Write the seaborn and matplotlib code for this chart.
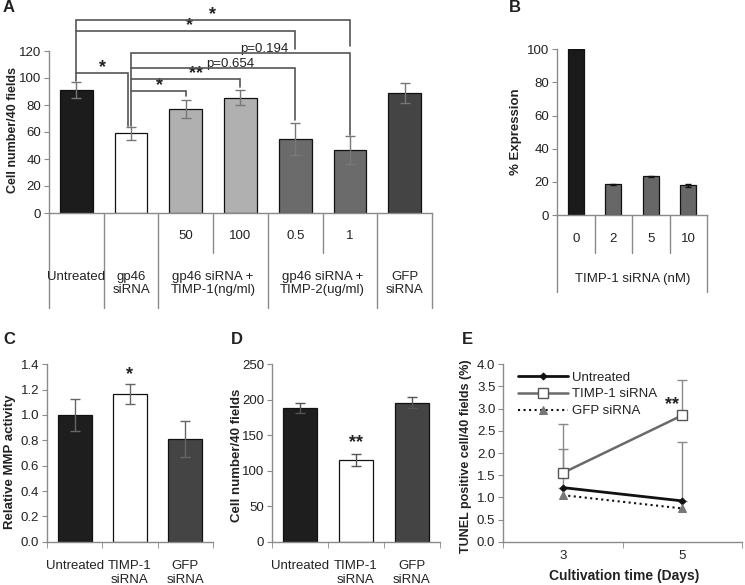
import matplotlib
matplotlib.use("Agg")
import matplotlib.pyplot as plt
import seaborn as sns
import numpy as np
import pandas as pd

# ---------------- data ----------------
a_cats = ["Untreated", "gp46 siRNA", "TIMP-1 50", "TIMP-1 100", "TIMP-2 0.5", "TIMP-2 1", "GFP siRNA"]
a_vals = [91, 59, 77, 85.5, 55, 46.5, 89]
a_errs = [6, 5, 6.5, 5.5, 12, 10.5, 7.5]
a_colors = ["#1c1c1c", "#ffffff", "#b0b0b0", "#b0b0b0", "#6b6b6b", "#6b6b6b", "#444444"]
a_dose_labels = ["50", "100", "0.5", "1"]
a_group_labels = ["Untreated", "gp46\nsiRNA", "gp46 siRNA +\nTIMP-1(ng/ml)",
                  "gp46 siRNA +\nTIMP-2(ug/ml)", "GFP\nsiRNA"]

b_cats = ["0", "2", "5", "10"]
b_vals = [100, 18.5, 23.5, 18]
b_errs = [0, 0.3, 0.3, 1.0]
b_colors = ["#1a1a1a", "#676767", "#676767", "#676767"]

cd_cats = ["Untreated", "TIMP-1\nsiRNA", "GFP\nsiRNA"]
cd_colors = ["#1e1e1e", "#ffffff", "#444444"]
c_vals = [1.0, 1.165, 0.81]
c_errs = [0.13, 0.08, 0.14]
d_vals = [188, 115, 196]
d_errs = [7, 8, 7.5]

e_days = [3, 5]
e_untreated = [1.22, 0.92]
e_timp = [1.55, 2.85]
e_gfp = [1.05, 0.75]
e_untreated_err = [0.88, 1.33]
e_timp_err = [1.1, 0.8]

# ---------------- style ----------------
sns.set_style("ticks")
plt.rcParams["font.family"] = ["Liberation Sans", "DejaVu Sans"]
plt.rcParams["text.color"] = "#222222"

W, H = 745, 585
fig = plt.figure(figsize=(W / 100, H / 100), dpi=100)
AX = "#8a8a8a"
TXT = "#222222"
FS = 9.5


def axes_px(l, r, t, b):
    return fig.add_axes([l / W, 1 - b / H, (r - l) / W, (b - t) / H])


def ftext(x, y, s, **kw):
    fig.text(x / W, 1 - y / H, s, **kw)


def style(ax):
    sns.despine(ax=ax)
    for s in ["left", "bottom"]:
        ax.spines[s].set_color(AX)
        ax.spines[s].set_linewidth(1.0)
    ax.tick_params(axis="y", direction="out", length=3.5, color=AX,
                   labelsize=FS, labelcolor=TXT, pad=2)
    ax.set_xlabel("")
    ax.set_ylabel("")


def bars(ax, cats, vals, errs, colors, width, ecolor, capsize):
    df = pd.DataFrame({"cat": cats, "val": vals})
    sns.barplot(data=df, x="cat", y="val", hue="cat", order=cats, hue_order=cats,
                palette=dict(zip(cats, colors)), legend=False, saturation=1,
                edgecolor="#111111", linewidth=0.9, width=width, errorbar=None, ax=ax)
    ax.errorbar(np.arange(len(cats)), vals, yerr=errs, fmt="none", ecolor=ecolor,
                elinewidth=1.0, capsize=capsize, capthick=1.0, zorder=5)
    ax.set_xlim(-0.5, len(cats) - 0.5)


# ---------------- Panel A ----------------
axA = axes_px(49, 432, 51, 213)
bars(axA, a_cats, a_vals, a_errs, a_colors, 0.6, "#777777", 3.5)
style(axA)
axA.set_ylim(0, 120)
axA.set_yticks(np.arange(0, 121, 20))
axA.set_xticks([])
axA.tick_params(axis="x", length=0)

lc = "#555555"
def poly(xs, ys):
    axA.plot(xs, ys, color=lc, lw=1.2, clip_on=False, zorder=6, solid_joinstyle="miter")

poly([0, 0, 5, 5], [103.7, 143, 143, 123.7])
poly([0, 4, 4], [135, 135, 121.5])
poly([1, 1, 5, 5], [64.4, 118.5, 118.5, 57.8])
poly([1, 4, 4], [107.4, 107.4, 68.9])
poly([1, 3, 3], [99.3, 99.3, 93.3])
poly([1, 2, 2], [90.4, 90.4, 86.7])
poly([0, 0, 0.94, 0.94], [97.8, 103.7, 103.7, 64.4])

star_kw = dict(ha="center", va="baseline", fontsize=13, fontweight="bold", color=TXT, clip_on=False)
p_kw = dict(ha="center", va="baseline", fontsize=FS, color=TXT, clip_on=False)
axA.text(2.49, 143.5, "*", **star_kw)
axA.text(2.07, 135.5, "*", **star_kw)
axA.text(3.44, 119.3, "p=0.194", **p_kw)
axA.text(2.82, 108.2, "p=0.654", **p_kw)
axA.text(2.18, 99.8, "**", **star_kw)
axA.text(1.52, 90.9, "*", **star_kw)
axA.text(0.48, 104.2, "*", **star_kw)

# category axis below A
for xb in [-0.5, 0.5, 1.5, 3.5, 5.5, 6.5]:
    axA.plot([xb, xb], [0, -70.4], color=AX, lw=1.0, clip_on=False)
for xb in [2.5, 4.5]:
    axA.plot([xb, xb], [0, -29.6], color=AX, lw=1.0, clip_on=False)
for xi, lab in zip([2, 3, 4, 5], a_dose_labels):
    axA.text(xi, -17, lab, ha="center", va="center", fontsize=FS, color=TXT, clip_on=False)
for xi, lab in zip([0, 1, 2.5, 4.5, 6], a_group_labels):
    axA.text(xi, -43, lab, ha="center", va="top", fontsize=FS, color=TXT,
             clip_on=False, linespacing=1.1)

ftext(13, 130, "Cell number/40 fields", rotation=90, ha="center", va="center",
      fontsize=9, fontweight="bold", color=TXT)
ftext(3, 7, "A", ha="left", va="center", fontsize=12, fontweight="bold", color=TXT)

# ---------------- Panel B ----------------
axB = axes_px(557, 707, 49.3, 215)
bars(axB, b_cats, b_vals, b_errs, b_colors, 0.43, "#111111", 2.5)
style(axB)
axB.set_ylim(0, 100)
axB.set_yticks(np.arange(0, 101, 20))
axB.set_xticks([])
axB.tick_params(axis="x", length=0)
for xb in [-0.5, 3.5]:
    axB.plot([xb, xb], [0, -46.4], color=AX, lw=1.0, clip_on=False)
for xb in [0.5, 1.5, 2.5]:
    axB.plot([xb, xb], [0, -22.9], color=AX, lw=1.0, clip_on=False)
for xi, lab in enumerate(b_cats):
    axB.text(xi, -14.5, lab, ha="center", va="center", fontsize=FS, color=TXT, clip_on=False)
ftext(633, 279, "TIMP-1 siRNA (nM)", ha="center", va="center", fontsize=FS, color=TXT)
ftext(516, 132, "% Expression", rotation=90, ha="center", va="center",
      fontsize=9.5, fontweight="bold", color=TXT)
ftext(509, 8, "B", ha="left", va="center", fontsize=12, fontweight="bold", color=TXT)


# ---------------- Panels C and D ----------------
def cat_xaxis(ax, labels):
    n = len(labels)
    ax.set_xticks(np.arange(n))
    ax.set_xticklabels(labels, fontsize=FS, color=TXT, linespacing=1.25)
    ax.tick_params(axis="x", which="major", length=0, pad=13)
    ax.set_xticks(np.arange(-0.5, n), minor=True)
    ax.tick_params(axis="x", which="minor", length=4, direction="out", color=AX)


axC = axes_px(47, 213, 364.3, 541.7)
bars(axC, cd_cats, c_vals, c_errs, cd_colors, 0.62, "#666666", 3.5)
style(axC)
axC.set_ylim(0, 1.4)
axC.set_yticks(np.arange(0, 1.41, 0.2))
axC.set_yticklabels([f"{v:.1f}" for v in np.arange(0, 1.41, 0.2)])
cat_xaxis(axC, cd_cats)
axC.text(1, 1.285, "*", **star_kw)
ftext(10, 462, "Relative MMP activity", rotation=90, ha="center", va="center",
      fontsize=9.5, fontweight="bold", color=TXT)
ftext(3, 340, "C", ha="left", va="center", fontsize=12, fontweight="bold", color=TXT)

axD = axes_px(272, 440, 364.3, 541.7)
bars(axD, cd_cats, d_vals, d_errs, cd_colors, 0.62, "#555555", 3.5)
style(axD)
axD.set_ylim(0, 250)
axD.set_yticks(np.arange(0, 251, 50))
cat_xaxis(axD, cd_cats)
axD.text(1, 133, "**", **star_kw)
ftext(237, 455, "Cell number/40 fields", rotation=90, ha="center", va="center",
      fontsize=9.5, fontweight="bold", color=TXT)
ftext(231, 340, "D", ha="left", va="center", fontsize=12, fontweight="bold", color=TXT)

# ---------------- Panel E ----------------
axE = axes_px(503, 742, 364.3, 541.7)
axE.errorbar(e_days, e_timp, yerr=[[0, 0], e_timp_err], fmt="none", ecolor="#8a8a8a",
             elinewidth=1.0, capsize=3.5, capthick=1.0, zorder=1)
axE.errorbar(e_days, e_untreated, yerr=[[0, 0], e_untreated_err], fmt="none", ecolor="#8a8a8a",
             elinewidth=1.0, capsize=3.5, capthick=1.0, zorder=1)
sns.lineplot(x=e_days, y=e_untreated, ax=axE, color="#111111", lw=2.0, marker="D",
             markersize=3.5, markeredgecolor="#111111", label="Untreated", zorder=3)
sns.lineplot(x=e_days, y=e_timp, ax=axE, color="#6a6a6a", lw=1.8, marker="s",
             markersize=7, markerfacecolor="white", markeredgecolor="#555555",
             markeredgewidth=1.0, label="TIMP-1 siRNA", zorder=4)
sns.lineplot(x=e_days, y=e_gfp, ax=axE, color="#111111", lw=1.5, linestyle=":",
             marker="^", markersize=6, markerfacecolor="#777777", markeredgecolor="#777777",
             label="GFP siRNA", zorder=3)
style(axE)
axE.set_xlim(2, 6)
axE.set_ylim(0, 4)
axE.set_yticks(np.arange(0, 4.01, 0.5))
axE.set_yticklabels([f"{v:.1f}" for v in np.arange(0, 4.01, 0.5)])
axE.set_xticks(e_days)
axE.set_xticklabels([str(d) for d in e_days], fontsize=FS, color=TXT)
axE.tick_params(axis="x", which="major", length=0, pad=6)
axE.set_xticks([2, 4, 6], minor=True)
axE.tick_params(axis="x", which="minor", length=4, direction="out", color=AX)
axE.text(4.83, 2.98, "**", **star_kw)
leg = axE.legend(loc="upper left", bbox_to_anchor=(0.05, 0.975), frameon=False,
                 fontsize=FS, handlelength=3.8, handletextpad=0.3, labelspacing=0.35,
                 borderaxespad=0, borderpad=0.2)
for t in leg.get_texts():
    t.set_color(TXT)
ftext(624, 576, "Cultivation time (Days)", ha="center", va="center",
      fontsize=10, fontweight="bold", color=TXT)
ftext(466, 456, "TUNEL positive cell/40 fields (%)", rotation=90, ha="center", va="center",
      fontsize=9, fontweight="bold", color=TXT)
ftext(462, 340, "E", ha="left", va="center", fontsize=12, fontweight="bold", color=TXT)

fig.savefig("out.png", dpi=100, facecolor="white")
